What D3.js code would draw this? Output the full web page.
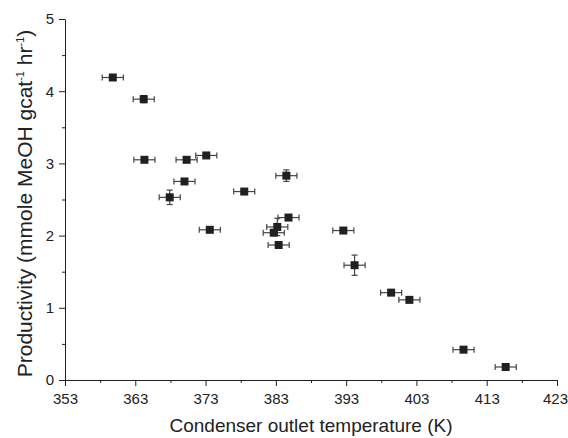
<!DOCTYPE html>
<html>
<head>
<meta charset="utf-8">
<script src="https://cdn.jsdelivr.net/npm/d3@7"></script>
<style>
  html, body { margin: 0; padding: 0; background: #fff; }
  svg { display: block; }
  .axis text { font-family: "Liberation Sans", Arial, sans-serif; fill: #222; }
</style>
</head>
<body>
<svg id="chart" width="568" height="438"></svg>
<script>
// Data
const temperature  = [359.8, 364.2, 364.3, 370.3, 373.1, 370.0, 367.9, 373.6, 378.5, 384.5, 384.8, 383.2, 382.7, 383.4, 392.6, 394.2, 399.4, 402.0, 409.7, 415.7];
const productivity = [4.19, 3.89, 3.05, 3.05, 3.11, 2.75, 2.53, 2.08, 2.61, 2.83, 2.25, 2.12, 2.04, 1.87, 2.07, 1.59, 1.21, 1.11, 0.42, 0.18];
const tempError    = [1.5, 1.5, 1.5, 1.5, 1.5, 1.5, 1.5, 1.5, 1.5, 1.5, 1.5, 1.5, 1.5, 1.5, 1.5, 1.5, 1.5, 1.5, 1.5, 1.5];
const prodError    = [0.02, 0.05, 0.03, 0.02, 0.03, 0.02, 0.10, 0.02, 0.02, 0.08, 0.02, 0.12, 0.02, 0.02, 0.02, 0.14, 0.02, 0.02, 0.02, 0.02];
const xMajorTicks  = [353, 363, 373, 383, 393, 403, 413, 423];
const xMinorTicks  = [358, 368, 378, 388, 398, 408, 418];
const yMajorTicks  = [0, 1, 2, 3, 4, 5];
const yMinorTicks  = [0.5, 1.5, 2.5, 3.5, 4.5];
const xTitle = "Condenser outlet temperature (K)";

const svg = d3.select("#chart");
const mLeft = 65, mRight = 557, mTop = 19, mBottom = 380;

const x = d3.scaleLinear().domain([353, 423]).range([mLeft, mRight]);
const y = d3.scaleLinear().domain([0, 5]).range([mBottom, mTop]);

const data = temperature.map((t, i) => ({ t, p: productivity[i], et: tempError[i], ep: prodError[i] }));

// Axes
const gx = svg.append("g").attr("class", "axis").attr("transform", `translate(0,${mBottom})`)
  .call(d3.axisBottom(x).tickValues(xMajorTicks).tickSize(6).tickSizeOuter(0).tickPadding(7).tickFormat(d3.format("d")));
svg.append("g").attr("transform", `translate(0,${mBottom})`)
  .call(d3.axisBottom(x).tickValues(xMinorTicks).tickSize(3).tickSizeOuter(0).tickFormat(""))
  .call(g => g.select(".domain").remove());

svg.append("g").attr("class", "axis").attr("transform", `translate(${mLeft},0)`)
  .call(d3.axisLeft(y).tickValues(yMajorTicks).tickSize(6).tickSizeOuter(0).tickPadding(5).tickFormat(d3.format("d")));
svg.append("g").attr("transform", `translate(${mLeft},0)`)
  .call(d3.axisLeft(y).tickValues(yMinorTicks).tickSize(3).tickSizeOuter(0).tickFormat(""))
  .call(g => g.select(".domain").remove());

svg.selectAll(".axis text").style("font-size", "15px");
// keep the last x label inside the picture, as in the reference
gx.selectAll(".tick text").filter(d => d === xMajorTicks[xMajorTicks.length - 1]).attr("dx", "-2");
svg.selectAll("path.domain, .tick line").attr("stroke", "#222").attr("stroke-width", 1);

// Axis titles
svg.append("text")
  .attr("x", (mLeft + mRight) / 2).attr("y", 432)
  .attr("text-anchor", "middle")
  .style("font-family", '"Liberation Sans", Arial, sans-serif')
  .style("font-size", "19px").style("fill", "#222")
  .text(xTitle);

const yt = svg.append("text")
  .attr("transform", `translate(32,${(mTop + mBottom) / 2 + 4}) rotate(-90)`)
  .attr("text-anchor", "middle")
  .style("font-family", '"Liberation Sans", Arial, sans-serif')
  .style("font-size", "21px").style("fill", "#222");
yt.append("tspan").text("Productivity (mmole MeOH gcat");
yt.append("tspan").attr("dy", -8).style("font-size", "11px").text("-1");
yt.append("tspan").attr("dy", 8).text(" hr");
yt.append("tspan").attr("dy", -8).style("font-size", "11px").text("-1");
yt.append("tspan").attr("dy", 8).text(")");

// Error bars
const cap = 3;
const eb = svg.append("g").attr("stroke", "#444").attr("stroke-width", 1.2).attr("fill", "none");
data.forEach(d => {
  const cx = x(d.t), cy = y(d.p);
  const x0 = x(d.t - d.et), x1 = x(d.t + d.et);
  eb.append("line").attr("x1", x0).attr("x2", x1).attr("y1", cy).attr("y2", cy);
  eb.append("line").attr("x1", x0).attr("x2", x0).attr("y1", cy - cap).attr("y2", cy + cap);
  eb.append("line").attr("x1", x1).attr("x2", x1).attr("y1", cy - cap).attr("y2", cy + cap);
  const y0 = y(d.p - d.ep), y1 = y(d.p + d.ep);
  eb.append("line").attr("x1", cx).attr("x2", cx).attr("y1", y0).attr("y2", y1);
  eb.append("line").attr("x1", cx - cap).attr("x2", cx + cap).attr("y1", y0).attr("y2", y0);
  eb.append("line").attr("x1", cx - cap).attr("x2", cx + cap).attr("y1", y1).attr("y2", y1);
});

// Markers
const s = 8;
svg.append("g").selectAll("rect").data(data).join("rect")
  .attr("x", d => x(d.t) - s / 2).attr("y", d => y(d.p) - s / 2)
  .attr("width", s).attr("height", s)
  .attr("fill", "#231f20");
</script>
</body>
</html>
